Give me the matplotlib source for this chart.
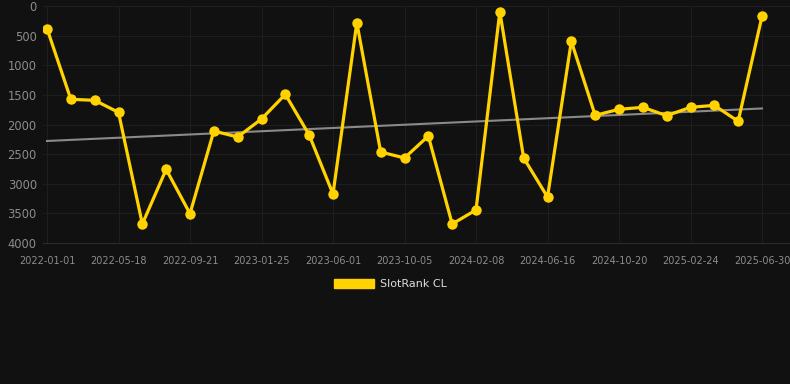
import matplotlib
matplotlib.use("Agg")
import matplotlib.pyplot as plt
from matplotlib.patches import Patch
import numpy as np

dates = ["2022-01-01", "2022-02-15", "2022-04-01", "2022-05-18", "2022-06-29", "2022-08-10",
         "2022-09-21", "2022-11-02", "2022-12-14", "2023-01-25", "2023-03-08", "2023-04-20",
         "2023-06-01", "2023-07-13", "2023-08-24", "2023-10-05", "2023-11-16", "2023-12-28",
         "2024-02-08", "2024-03-21", "2024-05-05", "2024-06-16", "2024-07-28", "2024-09-08",
         "2024-10-20", "2024-12-01", "2025-01-12", "2025-02-24", "2025-04-07", "2025-05-19",
         "2025-06-30"]
rank = [380, 1575, 1592, 1795, 3679, 2757, 3505, 2110, 2211, 1907, 1491, 2177, 3173, 281,
        2464, 2565, 2194, 3679, 3443, 96, 2565, 3224, 596, 1845, 1744, 1710, 1851, 1710,
        1677, 1946, 175]
series_name = "SlotRank CL"
yticks = [0, 500, 1000, 1500, 2000, 2500, 3000, 3500, 4000]

BG = "#111111"
GOLD = "#FFD200"

W, H = 790, 384
fig = plt.figure(figsize=(W / 100, H / 100), dpi=100, facecolor=BG)
ax_left, ax_right, ax_top, ax_bottom = 43, 790, 6, 243
ax = fig.add_axes([ax_left / W, 1 - ax_bottom / H, (ax_right - ax_left) / W, (ax_bottom - ax_top) / H])
ax.set_facecolor(BG)

x = np.arange(len(dates))
step = (762 - 47) / 30.0
ax.set_xlim(-(47 - ax_left) / step, 30 + (ax_right - 762) / step)
ax.set_ylim(4000, 0)

# trend line
coef = np.polyfit(x, rank, 1)
ax.plot([x[0], x[-1]], np.polyval(coef, [x[0], x[-1]]), color="#8a8a8a", lw=1.5, zorder=2)

ax.plot(x, rank, color=GOLD, lw=2.3, marker="o", markersize=7.5, markeredgewidth=0,
        solid_joinstyle="miter", zorder=3)

ax.set_yticks(yticks)
ax.set_yticklabels([str(v) for v in yticks])
tick_idx = list(range(0, len(dates), 3))
ax.set_xticks(tick_idx)
ax.set_xticklabels([dates[i] for i in tick_idx])

ax.grid(True, color="#1e1e1e", lw=0.8)
ax.set_axisbelow(True)
for s in ax.spines.values():
    s.set_visible(False)
ax.spines["bottom"].set_visible(True)
ax.spines["bottom"].set_color("#2a2a2a")
ax.spines["bottom"].set_linewidth(0.8)
ax.tick_params(axis="y", length=0, pad=4.5, labelsize=8.3, labelcolor="#8c8c8c")
ax.tick_params(axis="x", length=0, pad=9, labelsize=7, labelcolor="#8c8c8c")

handle = Patch(facecolor=GOLD, edgecolor=GOLD)
fig.legend([handle], [series_name], loc="center", bbox_to_anchor=(0.494, 1 - 284 / H),
           frameon=False, fontsize=8.0, labelcolor="#dddddd", handlelength=3.6,
           handleheight=0.95, handletextpad=0.55)

fig.savefig("out.png", dpi=100, facecolor=BG)
